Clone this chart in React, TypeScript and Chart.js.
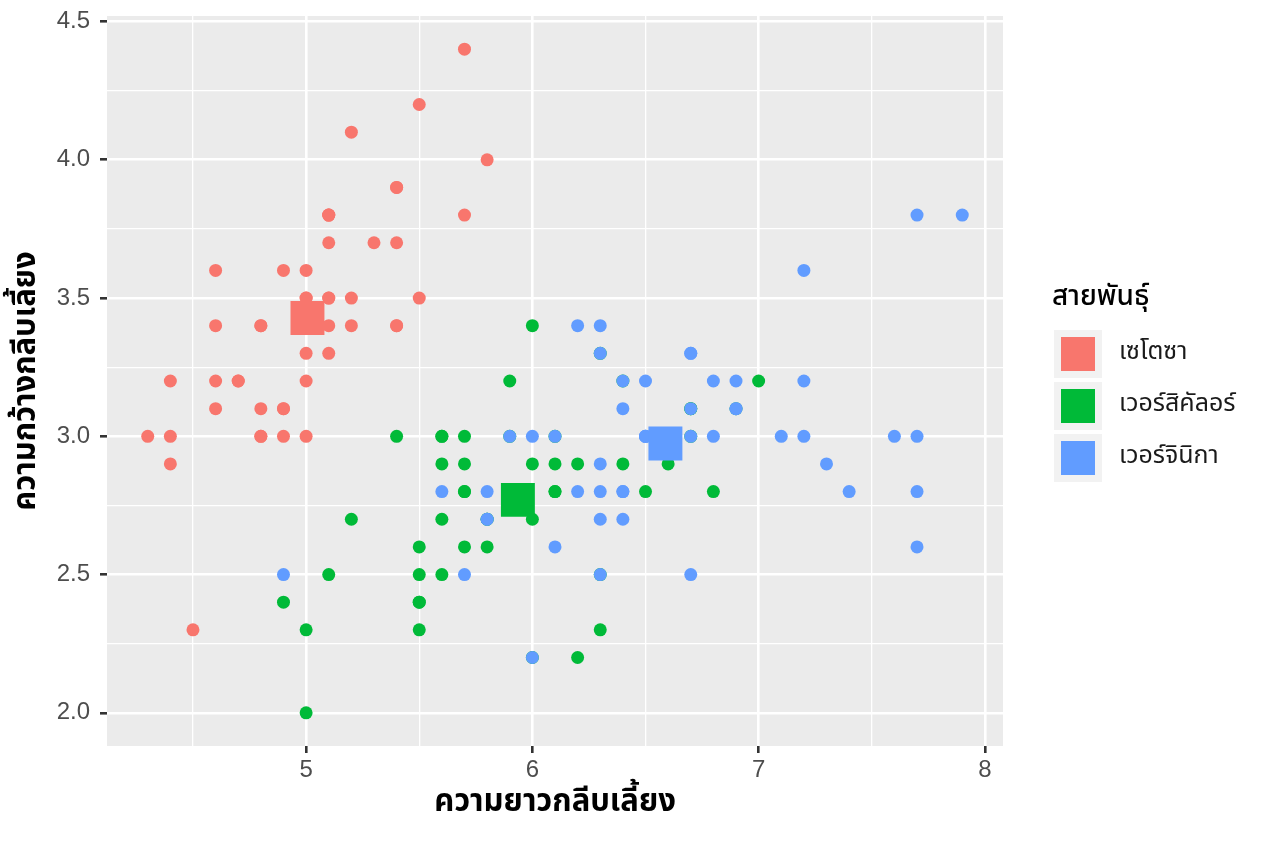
import React, { useEffect, useRef } from "react";
import { Chart, registerables } from "chart.js";

Chart.register(...registerables);

const SPECIES = ["เซโตซา", "เวอร์สิคัลอร์", "เวอร์จินิกา"];
const COLORS = ["#F8766D", "#00BA38", "#619CFF"];

const setosaLen = [5.1,4.9,4.7,4.6,5.0,5.4,4.6,5.0,4.4,4.9,5.4,4.8,4.8,4.3,5.8,5.7,5.4,5.1,5.7,5.1,5.4,5.1,4.6,5.1,4.8,5.0,5.0,5.2,5.2,4.7,4.8,5.4,5.2,5.5,4.9,5.0,5.5,4.9,4.4,5.1,5.0,4.5,4.4,5.0,5.1,4.8,5.1,4.6,5.3,5.0];
const setosaWid = [3.5,3.0,3.2,3.1,3.6,3.9,3.4,3.4,2.9,3.1,3.7,3.4,3.0,3.0,4.0,4.4,3.9,3.5,3.8,3.8,3.4,3.7,3.6,3.3,3.4,3.0,3.4,3.5,3.4,3.2,3.1,3.4,4.1,4.2,3.1,3.2,3.5,3.6,3.0,3.4,3.5,2.3,3.2,3.5,3.8,3.0,3.8,3.2,3.7,3.3];
const versiLen = [7.0,6.4,6.9,5.5,6.5,5.7,6.3,4.9,6.6,5.2,5.0,5.9,6.0,6.1,5.6,6.7,5.6,5.8,6.2,5.6,5.9,6.1,6.3,6.1,6.4,6.6,6.8,6.7,6.0,5.7,5.5,5.5,5.8,6.0,5.4,6.0,6.7,6.3,5.6,5.5,5.5,6.1,5.8,5.0,5.6,5.7,5.7,6.2,5.1,5.7];
const versiWid = [3.2,3.2,3.1,2.3,2.8,2.8,3.3,2.4,2.9,2.7,2.0,3.0,2.2,2.9,2.9,3.1,3.0,2.7,2.2,2.5,3.2,2.8,2.5,2.8,2.9,3.0,2.8,3.0,2.9,2.6,2.4,2.4,2.7,2.7,3.0,3.4,3.1,2.3,3.0,2.5,2.6,3.0,2.6,2.3,2.7,3.0,2.9,2.9,2.5,2.8];
const virgLen = [6.3,5.8,7.1,6.3,6.5,7.6,4.9,7.3,6.7,7.2,6.5,6.4,6.8,5.7,5.8,6.4,6.5,7.7,7.7,6.0,6.9,5.6,7.7,6.3,6.7,7.2,6.2,6.1,6.4,7.2,7.4,7.9,6.4,6.3,6.1,7.7,6.3,6.4,6.0,6.9,6.7,6.9,5.8,6.8,6.7,6.7,6.3,6.5,6.2,5.9];
const virgWid = [3.3,2.7,3.0,2.9,3.0,3.0,2.5,2.9,2.5,3.6,3.2,2.7,3.0,2.5,2.8,3.2,3.0,3.8,2.6,2.2,3.2,2.8,2.8,2.7,3.3,3.2,2.8,3.0,2.8,3.0,2.8,3.8,2.8,2.8,2.6,3.0,3.4,3.1,3.0,3.1,3.1,3.1,2.7,3.2,3.3,3.0,2.5,3.0,3.4,3.0];

const centroidLen = [5.006, 5.936, 6.588];
const centroidWid = [3.428, 2.770, 2.974];

const xTicks = [4.5, 5, 5.5, 6, 6.5, 7, 7.5, 8];
const yTicks = [2.0, 2.25, 2.5, 2.75, 3.0, 3.25, 3.5, 3.75, 4.0, 4.25, 4.5];

const X_TITLE = "ความยาวกลีบเลี้ยง";
const Y_TITLE = "ความกว้างกลีบเลี้ยง";
const LEGEND_TITLE = "สายพันธุ์";

const FONT = "'Noto Sans Thai', 'Noto Sans Thai Looped', 'Noto Sans', 'DejaVu Sans', sans-serif";
const TICK_FONT = "'Liberation Sans', Arial, sans-serif";

const zip = (xs: number[], ys: number[]) => xs.map((x, i) => ({ x, y: ys[i] }));

const isMajorX = (v: number) => Math.abs(v - Math.round(v)) < 1e-9;
const isMajorY = (v: number) => Math.abs(v * 2 - Math.round(v * 2)) < 1e-9;

const legendPlugin = {
  id: "ggLegend",
  afterDraw(chart: any) {
    const ctx = chart.ctx;
    ctx.save();
    ctx.fillStyle = "#000";
    ctx.font = `500 28px ${FONT}`;
    ctx.textBaseline = "middle";
    ctx.textAlign = "left";
    ctx.fillText(LEGEND_TITLE, 1052, 299);
    const rowTops = [330, 382, 434];
    SPECIES.forEach((name, i) => {
      const top = rowTops[i];
      ctx.fillStyle = "#F2F2F2";
      ctx.fillRect(1054, top, 48, 48);
      ctx.fillStyle = COLORS[i];
      ctx.fillRect(1061, top + 7, 34, 34);
      ctx.fillStyle = "#1a1a1a";
      ctx.font = `25px ${FONT}`;
      ctx.fillText(name, 1119, top + 24);
    });
    ctx.restore();
  },
};

const bgPlugin = {
  id: "panelBg",
  beforeDraw(chart: any) {
    const { ctx, chartArea } = chart;
    ctx.save();
    ctx.fillStyle = "#FFFFFF";
    ctx.fillRect(0, 0, chart.width, chart.height);
    ctx.fillStyle = "#EBEBEB";
    ctx.fillRect(chartArea.left, chartArea.top, chartArea.right - chartArea.left, chartArea.bottom - chartArea.top);
    ctx.restore();
  },
};

export default function App() {
  const ref = useRef<HTMLCanvasElement>(null);
  useEffect(() => {
    document.body.style.margin = "0";
    if (!ref.current) return;
    const pointDs = [
      zip(setosaLen, setosaWid),
      zip(versiLen, versiWid),
      zip(virgLen, virgWid),
    ].map((data, i) => ({
      label: SPECIES[i],
      data,
      backgroundColor: COLORS[i],
      borderColor: COLORS[i],
      borderWidth: 0,
      pointRadius: 6.5,
      pointHoverRadius: 6.5,
      pointStyle: "circle",
      order: 4 - i,
    }));
    const centroidDs = {
      label: "centroid",
      data: zip(centroidLen, centroidWid),
      backgroundColor: COLORS,
      borderColor: COLORS,
      borderWidth: 0,
      pointRadius: 24,
      pointHoverRadius: 24,
      pointStyle: "rect",
      order: 0,
    };
    const chart = new Chart(ref.current, {
      type: "scatter",
      data: { datasets: [...pointDs, centroidDs] as any },
      plugins: [bgPlugin, legendPlugin],
      options: {
        animation: false,
        responsive: false,
        devicePixelRatio: 1,
        layout: { autoPadding: false, padding: { left: 0, top: 16, right: 261, bottom: 0 } },
        plugins: { legend: { display: false }, tooltip: { enabled: false } },
        scales: {
          x: {
            type: "linear",
            min: 4.12,
            max: 8.08,
            afterFit: (s: any) => { s.height = 97; s.paddingLeft = 0; s.paddingRight = 0; },
            afterBuildTicks: (s: any) => { s.ticks = xTicks.map((v) => ({ value: v })); },
            border: { display: false },
            grid: {
              color: "#FFFFFF",
              lineWidth: (c: any) => (isMajorX(c.tick?.value ?? 0) ? 2.6 : 1.3),
              tickColor: (c: any) => (isMajorX(c.tick?.value ?? 0) ? "#333333" : "rgba(0,0,0,0)"),
              tickWidth: 2.6,
              tickLength: 7,
            },
            ticks: {
              color: "#4D4D4D",
              font: { family: TICK_FONT, size: 24 },
              padding: 3,
              maxRotation: 0,
              autoSkip: false,
              callback: (v: any) => (isMajorX(Number(v)) ? String(Number(v)) : ""),
            },
            title: {
              display: true,
              text: X_TITLE,
              color: "#000000",
              font: { family: FONT, size: 31, weight: "bold" },
              padding: { top: 0, bottom: 20 },
            },
          },
          y: {
            type: "linear",
            min: 1.88,
            max: 4.52,
            afterFit: (s: any) => { s.width = 107; s.paddingTop = 0; s.paddingBottom = 0; },
            afterBuildTicks: (s: any) => { s.ticks = yTicks.map((v) => ({ value: v })); },
            border: { display: false },
            grid: {
              color: "#FFFFFF",
              lineWidth: (c: any) => (isMajorY(c.tick?.value ?? 0) ? 2.6 : 1.3),
              tickColor: (c: any) => (isMajorY(c.tick?.value ?? 0) ? "#333333" : "rgba(0,0,0,0)"),
              tickWidth: 2.6,
              tickLength: 7,
            },
            ticks: {
              color: "#4D4D4D",
              font: { family: TICK_FONT, size: 24 },
              padding: 10,
              autoSkip: false,
              callback: (v: any) => (isMajorY(Number(v)) ? Number(v).toFixed(1) : ""),
            },
            title: {
              display: true,
              text: Y_TITLE,
              color: "#000000",
              font: { family: FONT, size: 31, weight: "bold" },
              padding: { top: 10, bottom: 0 },
            },
          },
        },
      },
    });
    return () => chart.destroy();
  }, []);
  return <canvas ref={ref} width={1264} height={843} style={{ display: "block" }} />;
}
